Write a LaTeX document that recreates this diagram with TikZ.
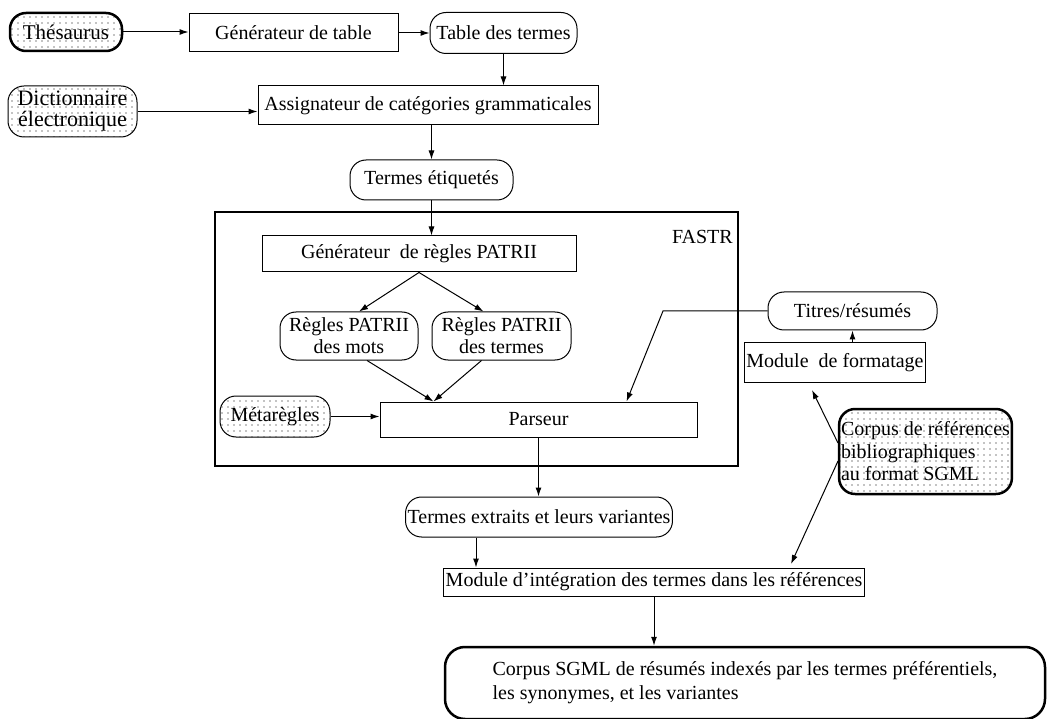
\documentclass[tikz,border=0pt]{standalone}
\usepackage{fontspec}
\setmainfont{Liberation Serif}
\usetikzlibrary{patterns.meta,arrows.meta}
\tikzset{
  base/.style={draw, line width=1pt, inner sep=2pt, align=center, font=\fontsize{20}{22}\selectfont},
  box/.style={base},
  rbox/.style={base, rounded corners=16pt},
  heavy/.style={line width=2.5pt},
  dotfill/.style={pattern={Dots[distance=6pt,radius=0.6pt]}, pattern color=black},
  arr/.style={line width=1pt, -{Latex[length=9pt,width=6pt]}},
}
\begin{document}
\begin{tikzpicture}[x=1pt,y=-1pt]
\useasboundingbox (0,0) rectangle (1047,719);
% FASTR frame
\node[draw, heavy, minimum width=523pt, minimum height=254pt, inner sep=0pt] (fastr) at (476.5,339) {};
\node[font=\fontsize{20}{22}\selectfont, anchor=north east, inner sep=0pt] (fastrlab) at (733,230) {FASTR};
% top row
\node[rbox, heavy, dotfill, minimum width=112pt, minimum height=38pt, font=\fontsize{21}{22}\selectfont] (thes) at (66,32) {Thésaurus};
\node[box, minimum width=209pt, minimum height=38pt] (gen) at (293.5,33) {Générateur de table};
\node[rbox, minimum width=147pt, minimum height=41pt] (tab) at (503.5,33) {Table des termes};
\node[rbox, dotfill, minimum width=129pt, minimum height=51pt, align=center, font=\fontsize{22}{21}\selectfont] (dict) at (72.5,111.5) {Dictionnaire\\électronique};
\node[box, minimum width=340pt, minimum height=39pt] (assign) at (428,105.5) {Assignateur de catégories grammaticales};
\node[rbox, minimum width=163pt, minimum height=40pt] (tet) at (431.5,180) {Termes étiquetés};
% inside FASTR
\node[box, minimum width=314pt, minimum height=36pt] (genp) at (419,254) {Générateur\ \ de règles PATRII};
\node[rbox, minimum width=138pt, minimum height=48pt, font=\fontsize{20}{22}\selectfont] (mots) at (349,336) {Règles PATRII\\des mots};
\node[rbox, minimum width=139pt, minimum height=48pt, font=\fontsize{20}{22}\selectfont] (termes) at (501.5,336) {Règles PATRII\\des termes};
\node[rbox, dotfill, minimum width=110pt, minimum height=41pt] (meta) at (275,416.5) {Métarègles};
\node[box, minimum width=317pt, minimum height=35pt] (pars) at (538.5,419.5) {Parseur};
% right side
\node[rbox, minimum width=169pt, minimum height=38pt] (titres) at (852.5,311) {Titres/résumés};
\node[box, minimum width=166pt, minimum height=39pt] (fmt) at (835,362.5) {Module\ \ de formatage};
\node[rbox, heavy, dotfill, minimum width=167pt, minimum height=85pt, align=left, font=\fontsize{20}{22.5}\selectfont] (corpref) at (925.5,451.5) {Corpus de références\\bibliographiques\\au format SGML};
% bottom
\node[rbox, minimum width=252pt, minimum height=40pt] (extr) at (539,517) {Termes extraits et leurs variantes};
\node[box, minimum width=388pt, minimum height=28pt] (integ) at (654,582) {Module d’intégration des termes dans les références};
\node[rbox, heavy, rounded corners=20pt, minimum width=600pt, minimum height=72pt, align=left, font=\fontsize{20}{24}\selectfont] (sgml) at (745,683) {Corpus SGML de résumés indexés par les termes préférentiels,\\les synonymes, et les variantes};
% connectors
\draw[arr] (thes.east) -- (gen.west |- thes.east);
\draw[arr] (gen.east) -- (tab.west |- gen.east);
\draw[arr] (tab.south) -- (tab.south |- assign.north);
\draw[arr] (dict.east) -- (dict.east -| assign.west);
\draw[arr] (tet.north |- assign.south) -- (tet.north);
\draw[arr] (tet.south) -- (tet.south |- genp.north);
\draw[arr] (genp.south) -- ([xshift=10pt]mots.north);
\draw[arr] (genp.south) -- ([xshift=-18pt]termes.north);
\coordinate (pin) at ([xshift=-105pt]pars.north);
\draw[arr] ([xshift=18pt]mots.south) -- (pin);
\draw[arr] ([xshift=-20pt]termes.south) -- (pin);
\draw[arr] (meta.east) -- (meta.east -| pars.west);
\coordinate (bend) at (663,311);
\draw[arr] (titres.west) -- (bend) -- ([xshift=88pt]pars.north);
\draw[arr] (pars.south) -- (pars.south |- extr.north);
\draw[arr] ([xshift=-63pt]extr.south) -- ([xshift=-63pt]extr.south |- integ.north);
\draw[arr] (integ.south) -- (integ.south |- sgml.north);
\draw[arr] (fmt.north -| titres.south) -- (titres.south);
\coordinate (cr1) at (838,443);
\coordinate (cr2) at (838,461);
\coordinate (t1) at (812,390);
\coordinate (t2) at (791,564);
\draw[arr] (cr1) -- (t1);
\draw[arr] (cr2) -- (t2);
\end{tikzpicture}
\end{document}
